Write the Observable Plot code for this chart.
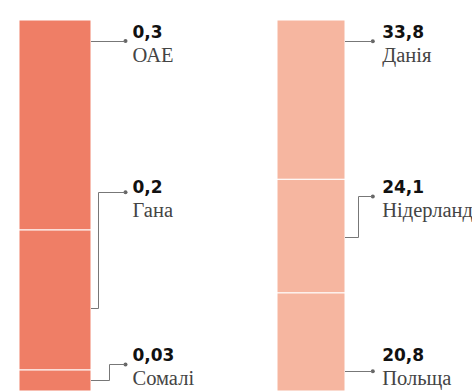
<!DOCTYPE html>
<html>
<head>
<meta charset="utf-8">
<script src="https://cdn.jsdelivr.net/npm/d3@7"></script>
<script src="https://cdn.jsdelivr.net/npm/@observablehq/plot@0.6"></script>
<style>
  html, body { margin: 0; padding: 0; background: #fff; }
  #chart svg { display: block; }
</style>
</head>
<body>
<div id="chart"></div>
<script>
// ---- data ----
const groups = ["left", "right"];

const leftCountries = ["ОАЕ", "Гана", "Сомалі"];
const leftValues = [0.3, 0.2, 0.03];
const leftLabels = ["0,3", "0,2", "0,03"];

const rightCountries = ["Данія", "Нідерланди", "Польща"];
const rightValues = [33.8, 24.1, 20.8];
const rightLabels = ["33,8", "24,1", "20,8"];

const colors = ["#ef7e66", "#f6b6a0"];

// ---- annotation layout (in normalized stack units: 0 = bottom, 1 = top) ----
const labelRows = [0.9534, 0.535, 0.0817];              // baseline of value label
const leftConnect = [0.9447, 0.2245, 0.0288];           // where leader meets bar
const leftDot = [0.9447, 0.5372, 0.0728];               // leader end dot
const rightConnect = [0.9442, 0.4159, 0.0547];
const rightDot = [0.9442, 0.5256, 0.0547];

const sides = [
  {group: "left", countries: leftCountries, values: leftValues, labels: leftLabels,
   color: colors[0], inset: 0, dotGap: 34, textGap: 41,
   connect: leftConnect, dot: leftDot, elbow: [null, 7, 18]},
  {group: "right", countries: rightCountries, values: rightValues, labels: rightLabels,
   color: colors[1], inset: 4, dotGap: 27.3, textGap: 36.7,
   connect: rightConnect, dot: rightDot, elbow: [null, 13.3, null]}
];

const xOpts = {type: "band", domain: groups, range: [18, 349], paddingInner: 0.722, paddingOuter: 0, axis: null};
const xScale = Plot.scale({x: xOpts});
const bw = xScale.bandwidth;

const marks = [];
for (const s of sides) {
  const data = s.countries.map((c, i) => ({group: s.group, name: c, value: s.values[i]}));
  const ann = s.countries.map((c, i) => ({
    group: s.group, name: c, label: s.labels[i], row: labelRows[i], dot: s.dot[i]
  }));
  marks.push(Plot.barY(data, Plot.stackY({
    x: "group", y: "value", z: "name", offset: "normalize", reverse: true,
    fill: s.color, stroke: "white", strokeWidth: 1, insetRight: s.inset
  })));
  const center = bw / 2;
  const dxText = bw - s.inset + s.textGap - center;
  const dxDot = bw - s.inset + s.dotGap - center;
  marks.push(Plot.dot(ann, {x: "group", y: "dot", dx: dxDot, r: 2, fill: "#666", stroke: "none"}));
  marks.push(Plot.text(ann, {
    x: "group", y: "row", text: "label", dx: dxText, textAnchor: "start", lineAnchor: "bottom",
    fontFamily: "DejaVu Sans", fontWeight: "bold", fontSize: 17, fill: "#111"
  }));
  marks.push(Plot.text(ann, {
    x: "group", y: "row", text: "name", dx: dxText, dy: 24, textAnchor: "start", lineAnchor: "bottom",
    fontFamily: "Liberation Serif", fontSize: 20.5, fill: "#444"
  }));
}

const chart = Plot.plot({
  width: 472,
  height: 392,
  marginTop: 20,
  marginBottom: 1,
  marginLeft: 18,
  marginRight: 123,
  x: xOpts,
  y: {axis: null, domain: [0, 1]},
  marks
});

// leader lines, positioned through the chart's own scales
const xs = chart.scale("x");
const ys = chart.scale("y");
const svg = d3.select(chart);
const g = svg.append("g").attr("fill", "none").attr("stroke", "#777").attr("stroke-width", 1);
for (const s of sides) {
  const edge = xs.apply(s.group) + xs.bandwidth - s.inset;
  s.countries.forEach((c, i) => {
    const yc = Math.round(ys.apply(s.connect[i])) + 0.5;
    const yd = Math.round(ys.apply(s.dot[i])) + 0.5;
    const xd = edge + s.dotGap;
    let pts;
    if (s.elbow[i] == null) {
      pts = [[edge, yd], [xd, yd]];
    } else {
      const xe = Math.round(edge + s.elbow[i]) + 0.5;
      pts = [[edge, yc], [xe, yc], [xe, yd], [xd, yd]];
    }
    g.append("path").attr("d", d3.line()(pts));
  });
}

document.getElementById("chart").append(chart);
</script>
</body>
</html>
